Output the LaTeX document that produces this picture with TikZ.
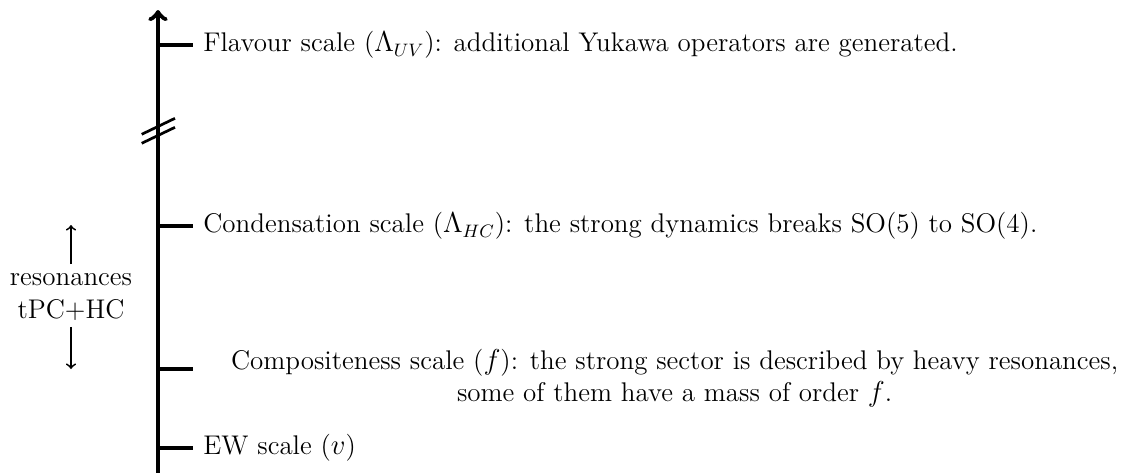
\documentclass[tikz,border=0pt]{standalone}
\begin{document}
\begin{tikzpicture}[x=0.5pt,y=-0.5pt,
  every node/.style={font=\fontsize{13.5}{16.3}\selectfont},
  axis/.style={line width=2.35pt},
  tick/.style={line width=2pt},
  brk/.style={line width=1.35pt},
  lbl/.style={anchor=west, inner sep=5pt},
  small/.style={line width=0.9pt,->}]
\useasboundingbox (0,0) rectangle (1131,472);
% axis
\coordinate (bot) at (158,480);
\coordinate (top) at (158,10);
\draw[axis,->] (bot) -- (top);
% break mark
\coordinate (b1a) at (141.7,134.3);
\coordinate (b1b) at (175,118.3);
\coordinate (b2a) at (141.7,143.3);
\coordinate (b2b) at (175,127.3);
\draw[brk] (b1a) -- (b1b);
\draw[brk] (b2a) -- (b2b);
% ticks and labels
\coordinate (a1) at (158,45);
\node[lbl] (fl) at (193,45) {Flavour scale ($\Lambda_{UV}$): additional Yukawa operators are generated.};
\draw[tick] (a1) -- (fl.west);
\coordinate (a2) at (158,226);
\node[lbl] (cd) at (193,226) {Condensation scale ($\Lambda_{HC}$): the strong dynamics breaks SO(5) to SO(4).};
\draw[tick] (a2) -- (cd.west);
\coordinate (a3) at (158,369);
\coordinate (e3) at (193,369);
\node[anchor=north west, inner sep=3.33pt, align=center] (cp) at (224,342) {Compositeness scale ($f$): the strong sector is described by heavy resonances,\\ some of them have a mass of order $f$.};
\draw[tick] (a3) -- (e3);
\coordinate (a4) at (158,448);
\node[lbl] (ew) at (193,448) {EW scale ($v$)};
\draw[tick] (a4) -- (ew.west);
% left label
\node[align=center, inner sep=0pt] (res) at (71,297) {resonances\\tPC+HC};
\coordinate (up) at (71,225);
\coordinate (dn) at (71,369);
\draw[small] ([yshift=4.5pt]res.north) -- (up);
\draw[small] ([yshift=-3pt]res.south) -- (dn);
\end{tikzpicture}
\end{document}
